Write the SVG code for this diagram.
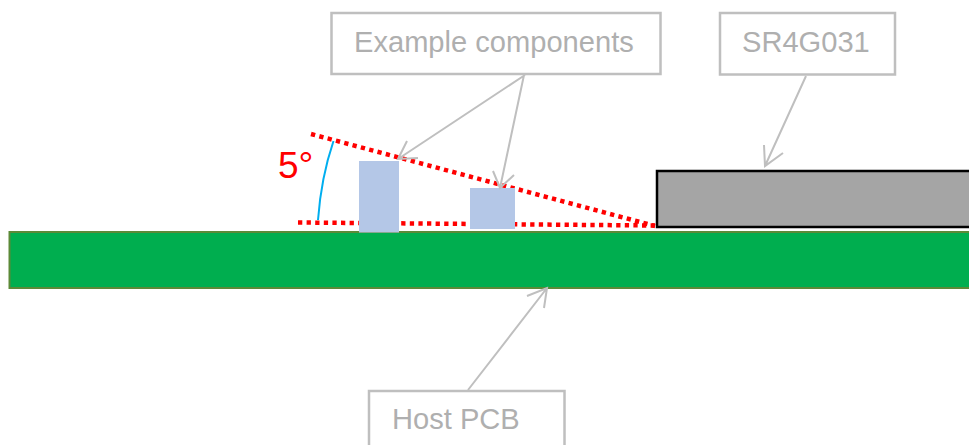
<svg xmlns="http://www.w3.org/2000/svg" width="969" height="445" viewBox="0 0 969 445">
<style>
.box{fill:#fff;stroke:#bfbfbf;stroke-width:2.5}
.lbl{font-family:"Liberation Sans",Arial,sans-serif;font-size:29.100px;fill:#afafaf}
.conn{fill:none;stroke:#bfbfbf;stroke-width:2}
.dot{fill:none;stroke:#f00;stroke-width:4.500;stroke-dasharray:4.300 4.300}
</style>
<rect width="969" height="445" fill="#fff"/>
<g id="host-pcb-board"><rect x="9.500" y="232" width="965" height="56" fill="#00ae4f" stroke="#5c8a38" stroke-width="2"/></g>
<g id="sr4g031-part"><rect x="657" y="171" width="320" height="56" fill="#a5a5a5" stroke="#000" stroke-width="2.500"/></g>
<g id="angle">
<path class="dot" d="M311 134L655 226"/>
<path class="dot" d="M298 222.500L655 225.500"/>
<path d="M333.500 141Q321 178 318 220" fill="none" stroke="#00aeef" stroke-width="2"/>
<text x="278" y="178" font-family="'Liberation Sans',Arial,sans-serif" font-size="37" fill="#f00">5°</text>
</g>
<g id="component-1"><rect x="359" y="161" width="40" height="71.500" fill="#b4c7e7"/></g>
<g id="component-2"><rect x="470" y="188" width="45" height="41" fill="#b4c7e7"/></g>
<g id="connectors">
<path class="conn" d="M525 75L398 159M407 141L398 159L418 158M524 75L500 188M493 171L500 188L514 175M806 76L765 166M764 145L765 166L783 153M468 390L547 288M527 296L547 288L544 308"/>
</g>
<g id="example-components"><rect class="box" x="331.500" y="13" width="329" height="61"/><text class="lbl" x="354" y="52">Example components</text></g>
<g id="sr4g031"><rect class="box" x="720" y="13" width="175" height="61.500"/><text class="lbl" x="742" y="52">SR4G031</text></g>
<g id="host-pcb"><rect class="box" x="369" y="391" width="195.500" height="70"/><text class="lbl" x="392" y="429">Host PCB</text></g>
</svg>
